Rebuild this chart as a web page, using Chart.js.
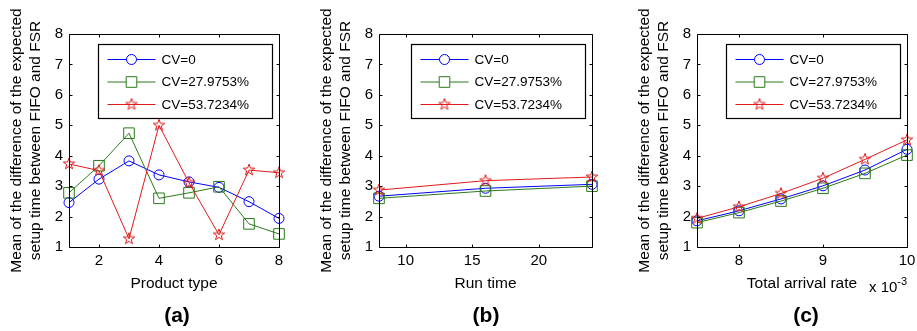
<!DOCTYPE html>
<html>
<head>
<meta charset="utf-8">
<script src="https://cdn.jsdelivr.net/npm/chart.js@4.4.1/dist/chart.umd.min.js"></script>
<style>
  body { margin: 0; background: #fff; width: 917px; height: 331px; position: relative; overflow: hidden;
         font-family: "Liberation Sans", Arial, sans-serif; color: #000; }
  canvas { position: absolute; top: 0; }
  .tag { position: absolute; top: 303px; width: 60px; margin-left: -30px; text-align: center;
         font-weight: bold; font-size: 21px; line-height: 24px; }
  .scale-note { position: absolute; left: 869px; top: 279px; font-size: 15px; line-height: 15px; white-space: nowrap; }
  .scale-note span { position: relative; top: -7px; font-size: 11px; }
</style>
</head>
<body>
<canvas id="chartA" width="300" height="331" style="left:0px"></canvas>
<canvas id="chartB" width="300" height="331" style="left:310px"></canvas>
<canvas id="chartC" width="289" height="331" style="left:628px"></canvas>
<div class="tag" style="left:177px">(a)</div>
<div class="tag" style="left:486px">(b)</div>
<div class="tag" style="left:806px">(c)</div>
<div class="scale-note">x 10<span>-3</span></div>

<script>
// ---- data ----
const seriesNames = ['CV=0', 'CV=27.9753%', 'CV=53.7234%'];
const yTicks = [1, 2, 3, 4, 5, 6, 7, 8];

// (a) product type
const productType = [1, 2, 3, 4, 5, 6, 7, 8];
const productTicks = [2, 4, 6, 8];
const cv0Product  = [2.46, 3.23, 3.83, 3.37, 3.14, 2.96, 2.49, 1.94];
const cv28Product = [2.78, 3.67, 4.74, 2.60, 2.78, 2.98, 1.76, 1.43];
const cv54Product = [3.73, 3.51, 1.27, 5.00, 3.11, 1.40, 3.53, 3.44];

// (b) run time
const runTime = [8, 16, 24];
const runTicks = [10, 15, 20];
const cv0Run  = [2.67, 2.93, 3.06];
const cv28Run = [2.60, 2.84, 3.00];
const cv54Run = [2.87, 3.18, 3.30];

// (c) total arrival rate, in units of 1e-3
const arrivalRate = [7.5, 8, 8.5, 9, 9.5, 10];
const arrivalTicks = [8, 9, 10];
const cv0Arrival  = [1.86, 2.19, 2.58, 3.01, 3.53, 4.21];
const cv28Arrival = [1.80, 2.13, 2.51, 2.93, 3.42, 4.02];
const cv54Arrival = [1.94, 2.32, 2.76, 3.26, 3.88, 4.52];

const yTitle = ['Mean of the difference of the expected', 'setup time between FIFO and FSR'];

// ---- styles ----
const FONT = '"Liberation Sans", Arial, sans-serif';
const BLUE = '#0000ff';
const GREEN = '#2a7a1a';
const RED = '#e01b1b';
const TICK_LEN = 3;

// hollow pentagram marker, used as a pointStyle image
function makePentagram(color, r) {
    const size = Math.ceil(r * 2) + 2;
    const c = document.createElement('canvas');
    c.width = size;
    c.height = size;
    const g = c.getContext('2d');
    g.strokeStyle = color;
    g.lineWidth = 1;
    g.beginPath();
    for (let i = 0; i < 10; i++) {
        const rad = i % 2 === 0 ? r : r * 0.4;
        const ang = -Math.PI / 2 + i * Math.PI / 5;
        const px = size / 2 + rad * Math.cos(ang);
        const py = size / 2 + rad * Math.sin(ang);
        if (i === 0) g.moveTo(px, py); else g.lineTo(px, py);
    }
    g.closePath();
    g.stroke();
    return c;
}
const starImg = makePentagram(RED, 6);

const markerStyles = [
    { color: BLUE,  pointStyle: 'circle', radius: 5 },
    { color: GREEN, pointStyle: 'rect',   radius: 7.5 },
    { color: RED,   pointStyle: starImg,  radius: 6 }
];

// frame with inward ticks on all four sides
const axesBox = {
    id: 'axesBox',
    afterDatasetsDraw(chart) {
        const { ctx, chartArea: a, scales: { x, y } } = chart;
        const l = Math.round(a.left) + 0.5, r = Math.round(a.right) + 0.5;
        const t = Math.round(a.top) + 0.5, b = Math.round(a.bottom) + 0.5;
        ctx.save();
        ctx.strokeStyle = '#000';
        ctx.lineWidth = 1;
        ctx.beginPath();
        ctx.rect(l, t, r - l, b - t);
        x.ticks.forEach(tk => {
            const px = Math.round(x.getPixelForValue(tk.value)) + 0.5;
            ctx.moveTo(px, b); ctx.lineTo(px, b - TICK_LEN);
            ctx.moveTo(px, t); ctx.lineTo(px, t + TICK_LEN);
        });
        y.ticks.forEach(tk => {
            const py = Math.round(y.getPixelForValue(tk.value)) + 0.5;
            ctx.moveTo(l, py); ctx.lineTo(l + TICK_LEN, py);
            ctx.moveTo(r, py); ctx.lineTo(r - TICK_LEN, py);
        });
        ctx.stroke();
        ctx.restore();
    }
};

// boxed legend in the upper right of the plot area
const boxLegend = {
    id: 'boxLegend',
    afterDraw(chart) {
        const { ctx, chartArea: a } = chart;
        const w = 174, h = 74;
        const left = Math.round(a.right - 7 - w) + 0.5;
        const top = Math.round(a.top + 10) + 0.5;
        ctx.save();
        ctx.fillStyle = '#fff';
        ctx.fillRect(left, top, w, h);
        ctx.strokeStyle = '#000';
        ctx.lineWidth = 1.2;
        ctx.strokeRect(left, top, w, h);

        ctx.font = '13.5px ' + FONT;
        ctx.textBaseline = 'middle';
        chart.data.datasets.forEach((ds, i) => {
            const cy = top + 15 + i * 22.5;
            ctx.strokeStyle = ds.borderColor;
            ctx.lineWidth = 1;
            ctx.beginPath();
            ctx.moveTo(left + 9, cy);
            ctx.lineTo(left + 57, cy);
            ctx.stroke();
            ctx.fillStyle = '#fff';
            Chart.helpers.drawPoint(ctx, {
                pointStyle: ds.pointStyle, radius: ds.pointRadius, rotation: 0, borderWidth: 1
            }, left + 33, cy);
            ctx.fillStyle = '#000';
            ctx.fillText(ds.label, left + 63, cy + 0.5);
        });
        ctx.restore();
    }
};

function buildDatasets(xs, seriesList) {
    return seriesList.map((vals, i) => ({
        label: seriesNames[i],
        data: xs.map((x, j) => ({ x: x, y: vals[j] })),
        borderColor: markerStyles[i].color,
        backgroundColor: 'rgba(0,0,0,0)',
        borderWidth: 1,
        pointStyle: markerStyles[i].pointStyle,
        pointRadius: markerStyles[i].radius,
        pointBorderColor: markerStyles[i].color,
        pointBackgroundColor: 'rgba(0,0,0,0)',
        pointBorderWidth: 1,
        tension: 0,
        clip: false,
        order: 2 - i
    }));
}

function makePanel(id, xs, seriesList, xRange, xTicks, xTitle, rightPad) {
    const ctx = document.getElementById(id).getContext('2d');
    return new Chart(ctx, {
        type: 'line',
        data: { datasets: buildDatasets(xs, seriesList) },
        options: {
            responsive: false,
            animation: false,
            events: [],
            layout: { padding: { left: 0, top: 34, right: rightPad, bottom: 34 } },
            plugins: { legend: { display: false }, tooltip: { enabled: false } },
            scales: {
                x: {
                    type: 'linear',
                    min: xRange[0],
                    max: xRange[1],
                    afterBuildTicks: s => { s.ticks = xTicks.map(v => ({ value: v })); },
                    afterFit: s => { s.height = 50; s.paddingLeft = 0; s.paddingRight = 0; },
                    grid: { display: false, drawTicks: false },
                    border: { display: false },
                    ticks: { color: '#000', font: { family: FONT, size: 15 }, padding: 5, maxRotation: 0 },
                    title: { display: true, text: xTitle, color: '#000',
                             font: { family: FONT, size: 15.5, lineHeight: 1.2 }, padding: { top: 0, bottom: 4 } }
                },
                y: {
                    min: 1,
                    max: 8,
                    afterBuildTicks: s => { s.ticks = yTicks.map(v => ({ value: v })); },
                    afterFit: s => { s.width = 69; s.paddingTop = 0; s.paddingBottom = 0; },
                    grid: { display: false, drawTicks: false },
                    border: { display: false },
                    ticks: { color: '#000', font: { family: FONT, size: 15 }, padding: 6 },
                    title: { display: true, text: yTitle, color: '#000',
                             font: { family: FONT, size: 15.5, lineHeight: 1.25 }, padding: { top: 7, bottom: 0 } }
                }
            }
        },
        plugins: [axesBox, boxLegend]
    });
}

makePanel('chartA', productType, [cv0Product, cv28Product, cv54Product], [1, 8], productTicks, 'Product type', 21);
makePanel('chartB', runTime, [cv0Run, cv28Run, cv54Run], [8, 24], runTicks, 'Run time', 18);
makePanel('chartC', arrivalRate, [cv0Arrival, cv28Arrival, cv54Arrival], [7.5, 10], arrivalTicks, 'Total arrival rate', 10);
</script>
</body>
</html>
